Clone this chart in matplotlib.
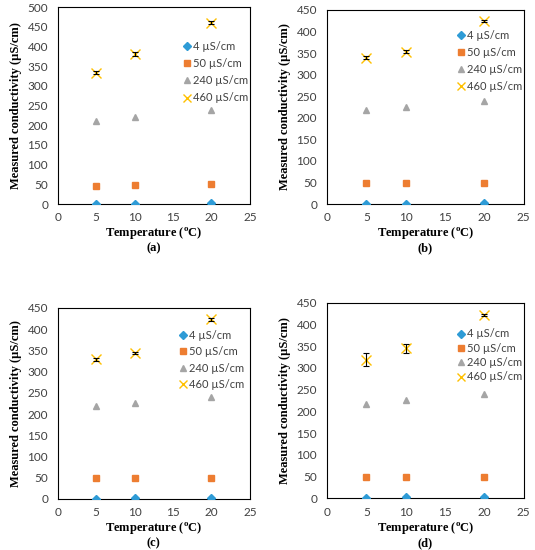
import matplotlib
matplotlib.use("Agg")
import matplotlib.pyplot as plt
import numpy as np

# Data

temps = [5, 10, 20]
series_labels = ["4 µS/cm", "50 µS/cm", "240 µS/cm", "460 µS/cm"]

a_4 = [0, 0, 3]
a_50 = [47, 48, 50]
a_240 = [211, 221, 240]
a_460 = [334, 381, 460]
a_460_err = [4, 4, 4]

b_4 = [0, 0, 3]
b_50 = [48, 49, 49]
b_240 = [219, 226, 240]
b_460 = [339, 353, 424]
b_460_err = [3, 3, 3]

c_4 = [0, 3, 3]
c_50 = [48, 49, 50]
c_240 = [219, 226, 240]
c_460 = [329, 344, 423]
c_460_err = [3, 3, 3]

d_4 = [0, 3, 3]
d_50 = [48, 48, 49]
d_240 = [216, 225, 239]
d_460 = [318, 345, 421]
d_460_err = [15, 10, 3]

panel_letters = ["(a)", "(b)", "(c)", "(d)"]
panel_ymax = [500, 450, 450, 450]

plt.rcParams['mathtext.fontset'] = 'custom'
plt.rcParams['mathtext.rm'] = 'Liberation Serif'
plt.rcParams['mathtext.bf'] = 'Liberation Serif:bold'

colors = ["#2E9BD6", "#ED7D31", "#A5A5A5", "#FFC000"]
markers = ["D", "s", "^", "x"]
sizes = [4.5, 4.5, 5, 7.5]

fig = plt.figure(figsize=(5.35, 5.5), dpi=100)

positions = [
    [0.108, 0.629, 0.359, 0.358],
    [0.611, 0.629, 0.368, 0.353],
    [0.108, 0.093, 0.359, 0.347],
    [0.611, 0.094, 0.368, 0.356],
]
panels = [
    (a_4, a_50, a_240, a_460, a_460_err),
    (b_4, b_50, b_240, b_460, b_460_err),
    (c_4, c_50, c_240, c_460, c_460_err),
    (d_4, d_50, d_240, d_460, d_460_err),
]
legend_anchor = [(0.63, 0.85), (0.64, 0.92), (0.61, 0.91), (0.64, 0.89)]
legend_spacing = [0.55, 0.55, 0.5, 0.3]

for pos, data, letter, ymax, anchor, lsp in zip(positions, panels, panel_letters,
                                                panel_ymax, legend_anchor, legend_spacing):
    ax = fig.add_axes(pos)
    s4, s50, s240, s460, err = data
    for vals, col, mk, ms, lab in zip([s4, s50, s240, s460], colors, markers, sizes, series_labels):
        if mk == "x":
            ax.plot(temps, vals, linestyle="none", marker=mk, color=col, markersize=ms,
                    markeredgewidth=1.0, label=lab, zorder=3)
        else:
            ax.plot(temps, vals, linestyle="none", marker=mk, color=col, markersize=ms,
                    label=lab, zorder=3)
    ax.errorbar(temps, s460, yerr=err, fmt="none", ecolor="black", elinewidth=0.8,
                capsize=2.5, capthick=0.8, zorder=4)

    ax.set_xlim(0, 25)
    ax.set_ylim(0, ymax)
    ax.set_xticks(np.arange(0, 26, 5))
    ax.set_yticks(np.arange(0, ymax + 1, 50))
    ax.tick_params(length=0, labelsize=8.5)
    ax.tick_params(axis="y", pad=7)
    ax.tick_params(axis="x", pad=6)
    for lbl in ax.get_xticklabels() + ax.get_yticklabels():
        lbl.set_family("Lato")
        lbl.set_color("#404040")
    for sp in ax.spines.values():
        sp.set_linewidth(0.8)
        sp.set_color("black")

    ax.set_ylabel("Measured conductivity (µS/cm)", family="Liberation Serif",
                  fontweight="bold", fontsize=9, labelpad=4)
    ax.set_xlabel("Temperature ($^{\\mathbf{o}}$C)\n" + letter, family="Liberation Serif",
                  fontweight="bold", fontsize=9, labelpad=2, linespacing=1.05)

    leg = ax.legend(loc="upper left", bbox_to_anchor=anchor, frameon=False,
                    handlelength=0.6, handletextpad=0.3, labelspacing=lsp,
                    borderaxespad=0, markerscale=0.85,
                    prop={"family": "Lato", "size": 8})
    for t in leg.get_texts():
        t.set_color("#404040")

fig.savefig("out.png", dpi=100)
